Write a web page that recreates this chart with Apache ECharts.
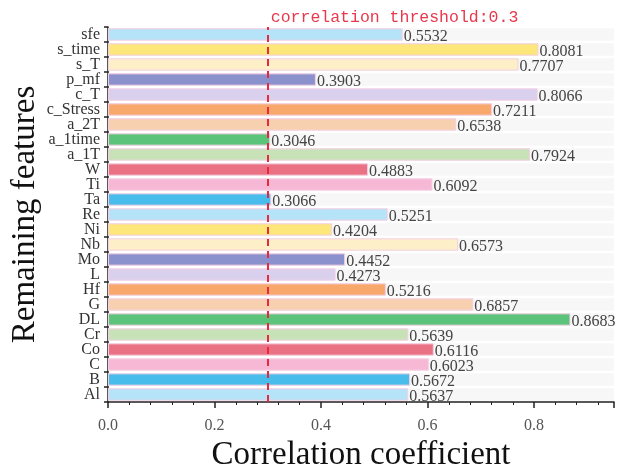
<!DOCTYPE html>
<html>
<head>
<meta charset="utf-8">
<script src="https://cdn.jsdelivr.net/npm/echarts@6/dist/echarts.min.js"></script>
<style>
  html, body { margin: 0; padding: 0; background: #fff; }
  #chart { width: 617px; height: 473px; }
</style>
</head>
<body>
<div id="chart"></div>
<script>
// features, bottom to top
const features = ['Al', 'B', 'C', 'Co', 'Cr', 'DL', 'G', 'Hf', 'L', 'Mo', 'Nb', 'Ni', 'Re',
  'Ta', 'Ti', 'W', 'a_1T', 'a_1time', 'a_2T', 'c_Stress', 'c_T', 'p_mf', 's_T', 's_time', 'sfe'];
const coefficients = [0.5637, 0.5672, 0.6023, 0.6116, 0.5639, 0.8683, 0.6857, 0.5216, 0.4273,
  0.4452, 0.6573, 0.4204, 0.5251, 0.3066, 0.6092, 0.4883, 0.7924, 0.3046, 0.6538, 0.7211,
  0.8066, 0.3903, 0.7707, 0.8081, 0.5532];
const threshold = 0.3;
// colour cycle, repeated from the bottom bar
const palette = ['#b5e3f8', '#48bdeb', '#f7b8d6', '#ea7183', '#c8e2b8', '#5cc47a',
  '#f7d0b0', '#f7a86a', '#d9d0ee', '#8b91cd', '#fdf0c8', '#fde77a'];

const serif = '"Liberation Serif", "Times New Roman", serif';

const chart = echarts.init(document.getElementById('chart'));

const option = {
  backgroundColor: '#fff',
  animation: false,
  grid: { left: 108, right: 3, top: 27, bottom: 71, outerBoundsMode: 'none' },
  xAxis: {
    type: 'value',
    min: 0,
    max: 0.95,
    interval: 0.2,
    name: 'Correlation coefficient',
    nameLocation: 'middle',
    nameGap: 37,
    nameMoveOverlap: false,
    nameTextStyle: { fontFamily: serif, fontSize: 33, color: '#111' },
    axisLine: { show: true, lineStyle: { color: '#222', width: 1.5 } },
    axisTick: { show: true, length: 6, lineStyle: { color: '#222', width: 1.5 } },
    minorTick: { show: true, splitNumber: 5, length: 3, lineStyle: { color: '#222' } },
    splitLine: { show: false },
    axisLabel: {
      showMaxLabel: false,
      margin: 16,
      fontFamily: serif, fontSize: 16, color: '#555',
      formatter: v => v.toFixed(1)
    }
  },
  yAxis: {
    type: 'category',
    data: features,
    name: 'Remaining features',
    nameLocation: 'middle',
    nameGap: 66,
    nameMoveOverlap: false,
    nameTextStyle: { fontFamily: serif, fontSize: 33, color: '#111' },
    axisLine: { show: true, lineStyle: { color: '#222', width: 1.5 } },
    axisTick: { show: true, length: 4, lineStyle: { color: '#222', width: 1.5 } },
    axisLabel: { fontFamily: serif, fontSize: 16, color: '#333', margin: 8, interval: 0 }
  },
  series: [{
    type: 'bar',
    data: coefficients,
    barCategoryGap: '18%',
    showBackground: true,
    backgroundStyle: { color: '#f7f7f7' },
    itemStyle: {
      color: p => palette[p.dataIndex % palette.length],
      borderColor: '#f4cfe4',
      borderWidth: 1
    },
    label: {
      show: true,
      position: 'right',
      distance: 1,
      offset: [0, 2],
      fontFamily: serif,
      fontSize: 16,
      color: '#444',
      formatter: p => p.value.toFixed(4)
    },
    markLine: {
      silent: true,
      symbol: 'none',
      lineStyle: { color: '#e8283c', type: [7, 5], width: 2 },
      label: {
        show: true,
        position: 'end',
        align: 'left',
        distance: 1,
        padding: [0, 0, 0, 3],
        fontFamily: '"Liberation Mono", "DejaVu Sans Mono", monospace',
        fontSize: 16.5,
        color: '#e8384c',
        formatter: 'correlation threshold:' + threshold
      },
      data: [{ xAxis: threshold }]
    }
  }]
};

chart.setOption(option);
</script>
</body>
</html>
